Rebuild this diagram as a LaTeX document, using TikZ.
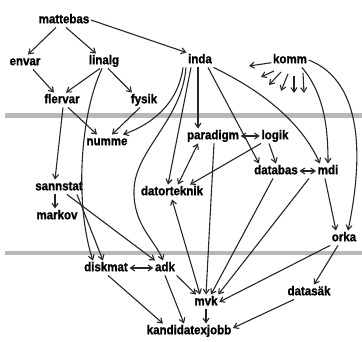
\documentclass[tikz,border=0pt]{standalone}
\usepackage{fontspec}
\setmainfont{Liberation Sans}[FakeStretch=0.9, BoldFeatures={FakeBold=1.2}]
\usetikzlibrary{arrows.meta}
\begin{document}
\begin{tikzpicture}[x=1pt,y=-1pt,
  course/.style={font=\fontsize{12.8}{14}\selectfont\bfseries, inner sep=1.5pt, text height=9pt, text depth=2.5pt},
  edge/.style={line width=1.1pt, draw=black!85, -{Straight Barb[length=4.5pt,width=6pt]}},
  both/.style={line width=1.1pt, draw=black!85, {Straight Barb[length=4.5pt,width=6pt]}-{Straight Barb[length=4.5pt,width=6pt]}},
  bar/.style={fill=black!28}]
\useasboundingbox (0,0) rectangle (362,342);
\fill[bar] (5,113.5) rectangle (362,118);
\fill[bar] (5,251) rectangle (362,255.5);

\node[course] (mattebas) at (64,20) {mattebas};
\node[course] (envar) at (25,62) {envar};
\node[course] (linalg) at (104,61) {linalg};
\node[course] (inda) at (200,60) {inda};
\node[course] (komm) at (290,60) {komm};
\node[course] (flervar) at (62,100) {flervar};
\node[course] (fysik) at (144,100) {fysik};
\node[course] (numme) at (107,142) {numme};
\node[course] (sannstat) at (59,187) {sannstat};
\node[course] (markov) at (57,216) {markov};
\node[course] (paradigm) at (213,136) {paradigm};
\node[course] (logik) at (275,136) {logik};
\node[course] (databas) at (276,171) {databas};
\node[course] (mdi) at (328,171) {mdi};
\node[course] (datorteknik) at (172,192) {datorteknik};
\node[course] (orka) at (344,238) {orka};
\node[course] (diskmat) at (106,268) {diskmat};
\node[course] (adk) at (165,268) {adk};
\node[course] (mvk) at (206,302) {mvk};
\node[course] (datasak) at (309,292) {datasäk};
\node[course] (kandidat) at (189,331) {kandidatexjobb};

\coordinate (k1) at (249,66);
\coordinate (k2) at (261,77);
\coordinate (k3) at (269,85);
\coordinate (k4) at (281,91);
\coordinate (k5) at (294,93);
\coordinate (k6) at (304,93);

\draw[edge] ([shift={(-8,0)}]mattebas.south) -- ([shift={(3,0)}]envar.north);
\draw[edge] ([shift={(2,0)}]mattebas.south) -- ([shift={(-8,0)}]linalg.north);
\draw[edge] (mattebas.east) -- (inda.north west);
\draw[edge] ([shift={(8,0)}]envar.south) -- ([shift={(-8,0)}]flervar.north);
\draw[edge] ([shift={(-4,0)}]linalg.south) -- ([shift={(4,0)}]flervar.north);
\draw[edge] ([shift={(4,0)}]linalg.south) -- ([shift={(-12,0)}]fysik.north);
\draw[edge] ([shift={(-2,0)}]linalg.south) .. controls (78,120) and (76,210) .. ([shift={(-13,0)}]diskmat.north);
\draw[edge] ([shift={(6,0)}]flervar.south) -- ([shift={(-10,0)}]numme.north);
\draw[edge] ([shift={(1,0)}]flervar.south) -- ([shift={(-4,0)}]sannstat.north);
\draw[edge] ([shift={(-4,0)}]fysik.south) -- ([shift={(5,0)}]numme.north);
\draw[edge] ([shift={(-17,0)}]inda.south) .. controls (178,105) and (150,125) .. ([shift={(16,0)}]numme.north);
\draw[edge] ([shift={(-14,0)}]inda.south) .. controls (182,120) and (135,150) .. (134,190) .. controls (133,225) and (155,240) .. ([shift={(-2,0)}]adk.north);
\draw[edge] ([shift={(-9,0)}]inda.south) -- ([shift={(-4,0)}]datorteknik.north);
\draw[edge] ([shift={(-2,0)}]inda.south) -- ([shift={(-15,0)}]paradigm.north);
\draw[edge] ([shift={(8,0)}]inda.south) -- ([shift={(-17,0)}]databas.north);
\draw[edge] (inda.south east) .. controls (260,90) and (300,120) .. ([shift={(-8,0)}]mdi.north);
\draw[edge] ([shift={(12,0)}]komm.south) .. controls (325,95) and (328,130) .. (mdi.north);
\draw[edge] (komm.east) .. controls (360,80) and (365,150) .. ([shift={(4,0)}]orka.north);
\draw[edge] ([shift={(-3,0)}]mdi.south) -- ([shift={(-8,0)}]orka.north);
\draw[edge] ([shift={(-6,0)}]logik.south) -- (databas.north);
\draw[edge] ([shift={(-14,0)}]logik.south) -- ([shift={(18,0)}]datorteknik.north);
\draw[both] (paradigm.east) -- (logik.west);
\draw[both] (databas.east) -- (mdi.west);
\draw[both] ([shift={(-15,0)}]paradigm.south) -- ([shift={(6,0)}]datorteknik.north);
\draw[edge] ([shift={(1,0)}]paradigm.south) -- (mvk.north);
\draw[both] (datorteknik.south) -- ([shift={(-6,0)}]mvk.north);
\draw[edge] ([shift={(-3,0)}]databas.south) -- ([shift={(5,0)}]mvk.north);
\draw[edge] ([shift={(-19,0)}]mdi.south) -- ([shift={(-1,0)}]mvk.north east);
\draw[edge] (orka.south west) -- (mvk.east);
\draw[edge] ([shift={(-6,0)}]orka.south) -- ([shift={(5,0)}]datasak.north);
\draw[edge] ([shift={(-15,0)}]datasak.south) -- ([shift={(0,-3)}]kandidat.east);
\draw[edge] (mvk.south) -- (mvk.south |- kandidat.north);
\draw[both] (diskmat.east) -- (adk.west);
\draw[edge] ([shift={(2,0)}]diskmat.south) -- ([shift={(-26,0)}]kandidat.north);
\draw[edge] (adk.south) -- ([shift={(-5,0)}]kandidat.north);
\draw[edge] (adk.south east) -- ([shift={(-10,0)}]mvk.north);
\draw[edge] ([shift={(8,0)}]sannstat.south) -- ([shift={(-10,0)}]adk.north);
\draw[edge] ([shift={(18,0)}]sannstat.south) -- ([shift={(-3,0)}]diskmat.north);
\draw[edge] ([shift={(-4,0)}]sannstat.south) -- ([shift={(-2,0)}]markov.north);

\draw[edge] (komm) -- (k1);
\draw[edge] ([shift={(-16,11)}]komm.center) -- (k2);
\draw[edge] ([shift={(-9,12)}]komm.center) -- (k3);
\draw[edge] ([shift={(-2,14)}]komm.center) -- (k4);
\draw[edge] ([shift={(4,16)}]komm.center) -- (k5);
\draw[edge] ([shift={(13,13)}]komm.center) -- (k6);
\end{tikzpicture}
\end{document}
